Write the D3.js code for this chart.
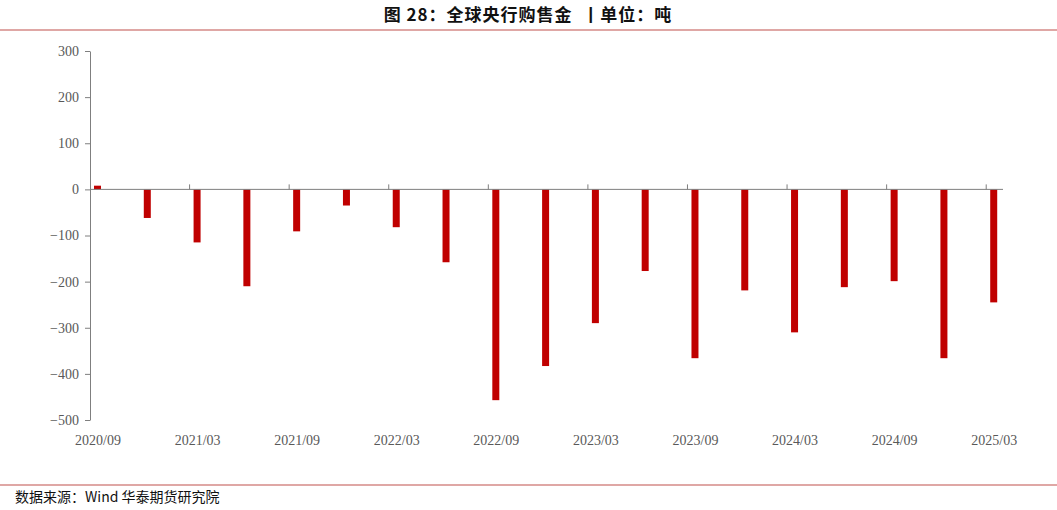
<!DOCTYPE html><html><head><meta charset="utf-8">
<script src="https://cdn.jsdelivr.net/npm/d3@7"></script>
<style>body{margin:0;background:#fff}</style></head><body><svg id="c" width="1057" height="510"></svg>
<script>
const categories=["2020/09","2020/12","2021/03","2021/06","2021/09","2021/12","2022/03","2022/06","2022/09","2022/12","2023/03","2023/06","2023/09","2023/12","2024/03","2024/06","2024/09","2024/12","2025/03"];
const values=[8,-62,-115,-210,-91,-35,-82,-158,-457,-383,-290,-177,-366,-219,-310,-212,-199,-366,-245];
const yTicks=[300,200,100,0,-100,-200,-300,-400,-500];
const title="图 28：全球央行购售金  丨单位：吨";
const source="数据来源：Wind 华泰期货研究院";
const svg=d3.select("#c");
const serif="'Liberation Serif','Times New Roman',serif";
svg.append("text").attr("x",528).attr("y",21).attr("text-anchor","middle").attr("font-family","'Noto Sans CJK SC'").attr("font-weight","bold").attr("font-size",17).attr("letter-spacing",1).attr("fill","#111").attr("xml:space","preserve").style("white-space","pre").text(title);
svg.append("line").attr("x1",0).attr("x2",1057).attr("y1",30).attr("y2",30).attr("stroke","#c0504d").attr("stroke-width",1.2);
svg.append("line").attr("x1",0).attr("x2",1057).attr("y1",485).attr("y2",485).attr("stroke","#c0504d").attr("stroke-width",1.2);
svg.append("text").attr("x",15).attr("y",502).attr("font-family","'Noto Sans CJK SC'").attr("font-size",14).attr("fill","#111").text(source);
const y=d3.scaleLinear().domain([-500,300]).range([420,51]);
const x=d3.scaleBand().domain(categories).range([90,1036]).paddingInner(0).paddingOuter(0);
const ax=svg.append("g").attr("transform","translate(90,0)").call(d3.axisLeft(y).tickValues(yTicks).tickSize(5).tickSizeOuter(0));
ax.selectAll("text").attr("font-family",serif).attr("font-size",14).attr("fill","#595959").attr("dx",-3);
ax.selectAll("line,path").attr("stroke","#7f7f7f");
svg.selectAll("rect.b").data(values).enter().append("rect").attr("class","b")
 .attr("x",(d,i)=>x(categories[i])+4).attr("width",7)
 .attr("y",d=>y(Math.max(0,d))).attr("height",d=>Math.abs(y(d)-y(0))).attr("fill","#c00000");
svg.append("line").attr("x1",90).attr("x2",1003).attr("y1",y(0)).attr("y2",y(0)).attr("stroke","#7f7f7f");
categories.forEach((c,i)=>{
 if(i%2===0){
  const xx=x(c);
  if(i>0) svg.append("line").attr("x1",xx).attr("x2",xx).attr("y1",y(0)).attr("y2",y(0)-5).attr("stroke","#7f7f7f");
  svg.append("text").attr("x",xx+8).attr("y",445).attr("text-anchor","middle").attr("font-family",serif).attr("font-size",14).attr("fill","#595959").text(c);
 }
});
</script></body></html>
